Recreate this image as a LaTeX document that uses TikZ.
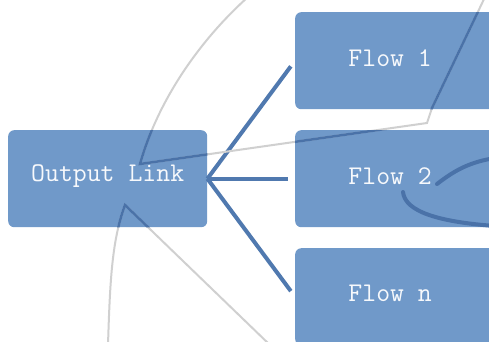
\documentclass[tikz,border=0pt]{standalone}
\definecolor{boxblue}{HTML}{7099C9}
\definecolor{linkblue}{HTML}{5079AF}
\definecolor{strokegray}{HTML}{D0D0D0}
\definecolor{strokeblue}{HTML}{4A72A8}
\definecolor{labelwhite}{HTML}{F7F9FC}
\begin{document}
\begin{tikzpicture}[x=1pt,y=-1pt,
  box/.style={fill=boxblue, rounded corners=6pt, minimum height=97pt,
    inner sep=0pt, anchor=north west},
  label/.style={text=labelwhite, inner sep=0pt,
    font=\ttfamily\fontsize{27}{27}\selectfont},
  link/.style={draw=linkblue, line width=4pt, shorten >=7pt},
  graystroke/.style={draw=strokegray, line width=2pt},
  bluestroke/.style={draw=strokeblue, line width=2.5pt},
  brush/.style={draw=strokeblue, line width=4pt, line cap=round},
]
\useasboundingbox (0,0) rectangle (489,341);
\clip (0,0) rectangle (489,341);

% boxes
\node[box, minimum width=199pt] (ol) at (8,130) {};
\node[box, minimum width=200pt] (f1) at (295,12) {};
\node[box, minimum width=200pt] (f2) at (295,130) {};
\node[box, minimum width=200pt] (fn) at (295,248) {};

% connectors
\draw[link] (ol.east) -- (f1.west);
\draw[link] (ol.east) -- (f2.west);
\draw[link] (ol.east) -- (fn.west);

% loose pen strokes across the sheet
\def\strokeA{(248,-3) .. controls (200,40) and (158,100) .. (140,164) -- (427,123) -- (432,108) -- (485,-3)}
\def\strokeC{(108,345) .. controls (110,280) and (112,240) .. (125,205) -- (270,345)}
\draw[graystroke] \strokeA;
\draw[graystroke] \strokeC;
\begin{scope}
  \clip[rounded corners=6pt] (ol.north west) rectangle (ol.south east)
    (f1.north west) rectangle (f1.south east)
    (f2.north west) rectangle (f2.south east)
    (fn.north west) rectangle (fn.south east);
  \draw[bluestroke] \strokeA;
  \draw[bluestroke] \strokeC;
\end{scope}
\draw[brush] (437,184) .. controls (455,170) and (470,162) .. (495,158);
\draw[brush] (403,192) .. controls (405,212) and (440,222) .. (495,226);

% labels
\node[label] (olt) at ([yshift=3pt]ol.center) {Output Link};
\node[label] (f1t) at ([shift={(-5pt,3pt)}]f1.center) {Flow 1};
\node[label] (f2t) at ([shift={(-5pt,3pt)}]f2.center) {Flow 2};
\node[label] (fnt) at ([shift={(-5pt,3pt)}]fn.center) {Flow n};
\end{tikzpicture}
\end{document}
